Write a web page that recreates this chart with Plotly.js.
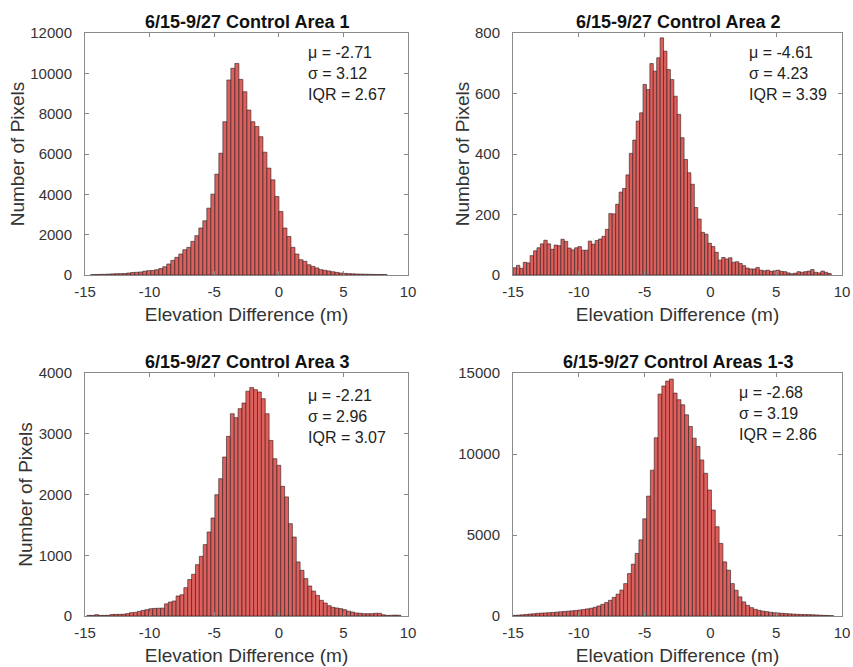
<!DOCTYPE html>
<html>
<head>
<meta charset="utf-8">
<script src="https://cdn.plot.ly/plotly-3.0.1.min.js"></script>
<style>html,body{margin:0;padding:0;background:#fff}#chart{width:853px;height:667px}</style>
</head>
<body>
<div id="chart"></div>
<script>
// ---- data ----
const panelTitles = ["6/15-9/27 Control Area 1", "6/15-9/27 Control Area 2", "6/15-9/27 Control Area 3", "6/15-9/27 Control Areas 1-3"];
const statMu = ["-2.71", "-4.61", "-2.21", "-2.68"];
const statSigma = ["3.12", "4.23", "2.96", "3.19"];
const statIQR = ["2.67", "3.39", "3.07", "2.86"];
const xTickVals = [-15, -10, -5, 0, 5, 10];
const xTickText = ["-15", "-10", "-5", "0", "5", "10"];

// bin edges: first edge and bin width per panel
const area1BinStart = -14.56, area1BinWidth = 0.31;
const area1Counts = [20,25,30,35,45,55,66,66,75,100,125,135,150,190,215,225,264,320,410,545,726,875,1040,1254,1370,1667,1950,2330,2690,3316,4010,5000,6040,7600,9670,10250,10490,9700,9090,8180,7600,7360,6860,6090,5300,4720,3890,3150,2330,1910,1370,1040,760,680,510,430,350,264,230,200,160,130,100,80,66,60,50,45,40,35,30,25,22,20];

const area2BinStart = -15, area2BinWidth = 0.26;
const area2Counts = [24,32,22,42,40,64,80,90,103,115,103,85,99,97,118,111,89,83,90,94,82,82,112,102,114,119,128,151,203,202,234,274,286,331,402,446,509,536,630,613,699,674,718,784,740,679,646,591,531,454,382,338,300,223,185,141,135,105,94,75,49,58,53,57,42,44,38,31,23,20,20,25,16,14,16,12,14,16,12,11,7,4,6,11,9,11,13,18,9,7,13,9,5];

const area3BinStart = -14.85, area3BinWidth = 0.30;
const area3Counts = [10,10,22,10,10,12,25,27,27,30,40,55,60,77,93,104,120,125,128,130,200,230,247,330,350,466,600,686,845,982,1175,1383,1613,1997,2260,2617,2957,3330,3265,3413,3506,3700,3760,3726,3687,3578,3330,2890,2590,2480,2134,1960,1520,1300,890,752,615,494,411,340,258,214,170,143,132,121,104,80,66,50,45,38,38,38,44,44,20,10,12,15,12];

const areaAllBinStart = -15, areaAllBinWidth = 0.29;
const areaAllCounts = [40,55,75,95,120,140,165,180,190,205,220,240,260,280,300,320,340,370,400,440,480,540,620,720,830,970,1150,1350,1600,2000,2620,3200,3860,4700,6000,7400,9000,11000,13700,14200,14500,14626,13760,13350,13040,12420,11700,10980,10460,9630,8810,7780,6540,5510,4480,3340,2830,2000,1590,1180,870,660,516,413,351,300,270,230,205,186,165,150,135,120,105,95,90,85,80,65,50,40,30,20];

const yRanges = [[0, 12000], [0, 800], [0, 4000], [0, 15000]];
const yDticks = [2000, 200, 1000, 5000];

// ---- build ----
const FONT = "Liberation Sans, Arial, Helvetica, sans-serif";
const FILL = "#de5f5c";
const EDGE = "rgba(40,28,28,0.85)";
const FRAME = "#8a8a8a";
const TXT = "#333333";

function centers(start, width, counts) {
  return counts.map((_, i) => start + (i + 0.5) * width);
}
const sets = [
  [area1BinStart, area1BinWidth, area1Counts],
  [area2BinStart, area2BinWidth, area2Counts],
  [area3BinStart, area3BinWidth, area3Counts],
  [areaAllBinStart, areaAllBinWidth, areaAllCounts]
];
const traces = sets.map((s, k) => ({
  type: "bar",
  x: centers(s[0], s[1], s[2]),
  y: s[2],
  width: s[1],
  xaxis: k === 0 ? "x" : "x" + (k + 1),
  yaxis: k === 0 ? "y" : "y" + (k + 1),
  marker: { color: FILL, line: { color: EDGE, width: 0.7 } },
  hoverinfo: "x+y",
  showlegend: false
}));

const xDom = [[0, 0.4267], [0.5654, 1], [0, 0.4267], [0.5654, 1]];
const yDom = [[0.5849, 1], [0.5849, 1], [0, 0.4168], [0, 0.4168]];

const layout = {
  width: 853, height: 667,
  margin: { l: 85, r: 11, t: 33, b: 51 },
  paper_bgcolor: "#fff", plot_bgcolor: "#fff",
  bargap: 0,
  font: { family: FONT, color: TXT },
  showlegend: false,
  annotations: []
};

for (let k = 0; k < 4; k++) {
  const sx = k === 0 ? "" : String(k + 1);
  layout["xaxis" + sx] = {
    domain: xDom[k], anchor: "y" + sx, range: [-15, 10],
    tickmode: "array", tickvals: xTickVals, ticktext: xTickText,
    ticks: "inside", ticklen: 4, tickcolor: FRAME, tickwidth: 1,
    showline: true, linecolor: FRAME, linewidth: 1, mirror: "ticks",
    showgrid: false, zeroline: false,
    tickfont: { family: FONT, size: 15, color: TXT },
    ticklabelstandoff: 3,
    title: { text: "Elevation Difference (m)", font: { family: FONT, size: 19, color: TXT }, standoff: 8 },
    automargin: false, fixedrange: true
  };
  layout["yaxis" + sx] = {
    domain: yDom[k], anchor: "x" + sx, range: yRanges[k], dtick: yDticks[k], tick0: 0,
    tickformat: "d",
    ticks: "inside", ticklen: 4, tickcolor: FRAME, tickwidth: 1,
    showline: true, linecolor: FRAME, linewidth: 1, mirror: "ticks",
    showgrid: false, zeroline: false,
    tickfont: { family: FONT, size: 15, color: TXT },
    ticklabelstandoff: 9,
    title: k === 3 ? { text: "" } : { text: "Number of Pixels", font: { family: FONT, size: 19, color: TXT }, standoff: 0 },
    automargin: false, fixedrange: true
  };
  layout.annotations.push({
    xref: "paper", yref: "paper",
    x: (xDom[k][0] + xDom[k][1]) / 2, y: yDom[k][1],
    xanchor: "center", yanchor: "bottom", yshift: -1,
    text: "<b>" + panelTitles[k] + "</b>", showarrow: false,
    font: { family: FONT, size: 18, color: "#111" }
  });
}

const statX = [0.292, 0.874, 0.292, 0.861];
const statY = [0.984, 0.984, 0.397, 0.401];
for (let k = 0; k < 4; k++) {
  layout.annotations.push({
    xref: "paper", yref: "paper", x: statX[k], y: statY[k],
    xanchor: "left", yanchor: "top", align: "left", showarrow: false,
    text: "μ = " + statMu[k] + "<br>σ = " + statSigma[k] + "<br>IQR = " + statIQR[k],
    font: { family: FONT, size: 16, color: "#222" }
  });
}

Plotly.newPlot("chart", traces, layout, { displayModeBar: false, staticPlot: true });
</script>
</body>
</html>
